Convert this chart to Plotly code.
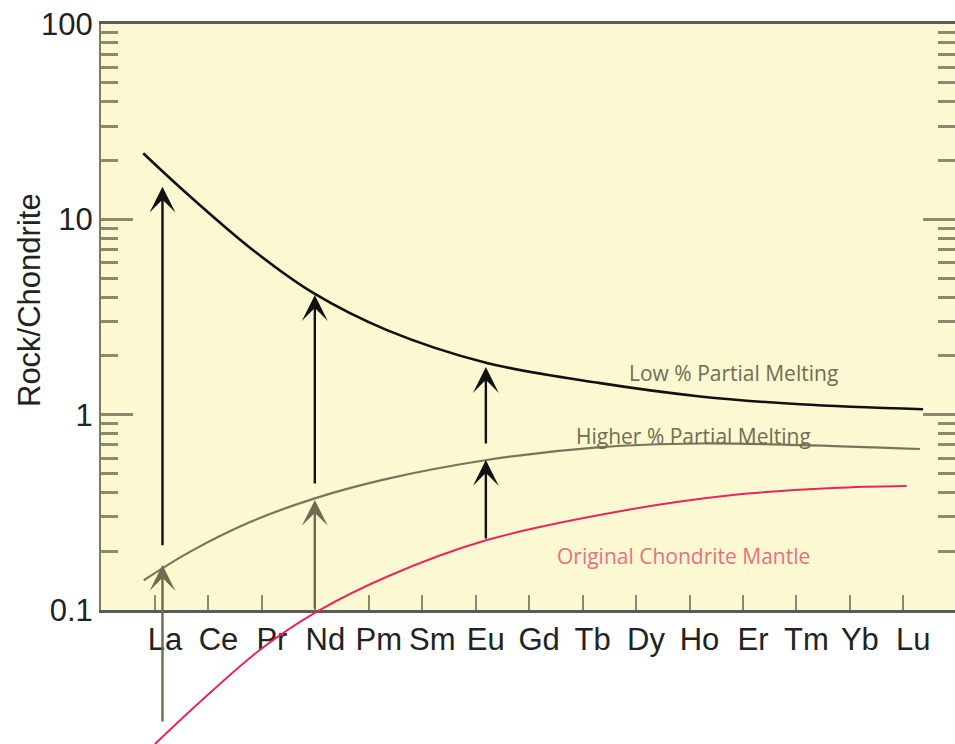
import numpy as np
import plotly.graph_objects as go

# ---------------- data ----------------
elements = ["La", "Ce", "Pr", "Nd", "Pm", "Sm", "Eu", "Gd", "Tb", "Dy", "Ho", "Er", "Tm", "Yb", "Lu"]
element_pos = list(range(len(elements)))

# Low % partial melting (position along element axis, Rock/Chondrite)
low_x = [-0.22, 0.59, 1.83, 2.96, 4.34, 6.21, 8.33, 10.2, 12.07, 14.37]
low_y = [21.8, 13.6, 6.97, 4.20, 2.71, 1.84, 1.45, 1.24, 1.13, 1.065]

# Higher % partial melting
high_x = [-0.21, 0.66, 1.78, 2.99, 4.34, 6.21, 8.33, 10.2, 12.07, 14.31]
high_y = [0.142, 0.199, 0.282, 0.373, 0.469, 0.586, 0.682, 0.712, 0.699, 0.667]

# Original chondrite mantle
orig_x = [0.0, 0.84, 1.96, 3.03, 4.34, 6.21, 8.83, 10.81, 12.69, 14.06]
orig_y = [0.0206, 0.0338, 0.0624, 0.098, 0.148, 0.228, 0.325, 0.388, 0.421, 0.431]

# arrows: position, tail value, head value, colour group
arrow_x = [0.14, 0.14, 2.99, 2.99, 6.19, 6.19]
arrow_from = [0.0264, 0.211, 0.100, 0.436, 0.228, 0.699]
arrow_to = [0.170, 14.7, 0.366, 4.10, 0.586, 1.754]
arrow_group = ["olive", "black", "olive", "black", "black", "black"]

y_ticks = [0.1, 1, 10, 100]
y_ticktext = ["0.1", "1", "10", "100"]
y_minor = [m * 10.0 ** e for e in (-1, 0, 1) for m in range(2, 10)]

# ---------------- styles ----------------
BG = "#fcf8d2"
OLIVE = "#77765a"
TICK = "#8c8a6c"
BLACK = "#111111"
RED = "#e8265e"
FONT = "Liberation Sans, Arial, sans-serif"

fig = go.Figure()

for yax in ("y", "y2"):
    fig.add_trace(go.Scatter(x=orig_x, y=orig_y, mode="lines", yaxis=yax,
                             line=dict(color=RED, width=2, shape="spline", smoothing=1.0),
                             hoverinfo="skip", showlegend=False))

fig.add_trace(go.Scatter(x=high_x, y=high_y, mode="lines",
                         line=dict(color=OLIVE, width=2.2, shape="spline", smoothing=1.0),
                         hoverinfo="skip", showlegend=False))
fig.add_trace(go.Scatter(x=low_x, y=low_y, mode="lines",
                         line=dict(color=BLACK, width=2.6, shape="spline", smoothing=1.0),
                         hoverinfo="skip", showlegend=False))

colors = {"olive": "#6d6c50", "black": BLACK}
for xv, yf, yt, g in zip(arrow_x, arrow_from, arrow_to, arrow_group):
    fig.add_annotation(x=xv, y=np.log10(yt), ax=xv, ay=np.log10(yf),
                       xref="x", yref="y", axref="x", ayref="y",
                       showarrow=True, arrowhead=3, arrowsize=1.8, arrowwidth=2.4,
                       arrowcolor=colors[g], text="")

label_font = "Open Sans, Lato, sans-serif"
fig.add_annotation(x=10.83, y=0.2133, xref="x", yref="y", text="Low % Partial Melting",
                   showarrow=False, font=dict(family=label_font, size=21, color="#6f6d52"))
fig.add_annotation(x=10.07, y=-0.1093, xref="x", yref="y", text="Higher % Partial Melting",
                   showarrow=False, font=dict(family=label_font, size=21, color="#6f6d52"))
fig.add_annotation(x=9.88, y=-0.7236, xref="x", yref="y", text="Original Chondrite Mantle",
                   showarrow=False, font=dict(family=label_font, size=21, color="#e8707e"))

# y axis title
fig.add_annotation(x=-0.0831, y=0.6167, xref="paper", yref="paper", text="Rock/Chondrite",
                   textangle=-90, showarrow=False, xanchor="center", yanchor="middle",
                   font=dict(family=FONT, size=31, color="#222222"))

# yellow plotting area (main subplot only)
fig.add_shape(type="rect", xref="x domain", yref="y domain", x0=0, x1=1, y0=0, y1=1,
              fillcolor=BG, line=dict(width=0), layer="below")

main_bottom = 134 / 720

fig.update_layout(
    width=955, height=744,
    margin=dict(l=101, r=0, t=24, b=0, autoexpand=False),
    paper_bgcolor="white", plot_bgcolor="white",
    showlegend=False,
    xaxis=dict(
        range=[-1.0103, 14.967], anchor="y", automargin=False,
        tickmode="array", tickvals=element_pos, ticktext=elements,
        ticks="inside", ticklen=15, tickwidth=1.8, tickcolor=TICK,
        ticklabelshift=10,
        tickfont=dict(family=FONT, size=31, color="#222222"),
        showline=True, linecolor="#5a5a5a", linewidth=2.5, mirror=True,
        showgrid=False, zeroline=False,
    ),
    yaxis=dict(
        type="log", range=[-1, 2], domain=[main_bottom, 1], automargin=False,
        tickmode="array", tickvals=y_ticks, ticktext=y_ticktext,
        ticks="inside", ticklen=32, tickwidth=2.5, tickcolor=TICK,
        minor=dict(tickmode="array", tickvals=y_minor, ticks="inside", ticklen=17,
                   tickwidth=2.5, tickcolor=TICK, showgrid=False),
        tickfont=dict(family=FONT, size=31, color="#222222"),
        showline=True, linecolor="#7d7b5d", linewidth=2, mirror="ticks",
        showgrid=False, zeroline=False,
    ),
    yaxis2=dict(
        type="log", range=[-1 - 134 / 195.33, -1], domain=[0, main_bottom], automargin=False,
        showline=False, showticklabels=False, ticks="", showgrid=False, zeroline=False,
        anchor="x",
    ),
)

fig.write_html(
    "out.html",
    config={"displayModeBar": False},
    post_script="document.body.style.margin='0';document.documentElement.style.overflow='hidden';",
)
